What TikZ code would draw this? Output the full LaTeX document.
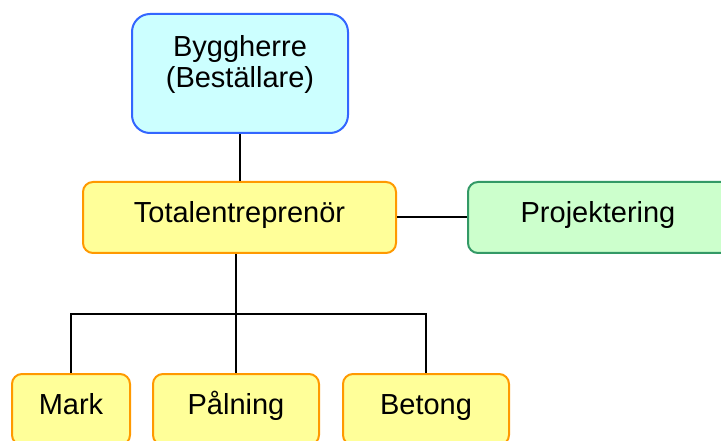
\documentclass[tikz,border=0pt]{standalone}
\usepackage{fontspec}
\setmainfont{Liberation Sans}
\definecolor{cyanfill}{HTML}{CCFFFF}
\definecolor{blueedge}{HTML}{3366FF}
\definecolor{yellowfill}{HTML}{FFFF99}
\definecolor{orangeedge}{HTML}{FF9900}
\definecolor{greenfill}{HTML}{CCFFCC}
\definecolor{greenedge}{HTML}{339966}
\tikzset{
  orgbox/.style={draw, line width=2pt, rounded corners=10pt, inner sep=0pt,
    minimum height=71pt, font=\fontsize{29}{31}\selectfont,
    text height=21pt, text depth=11.2pt},
  contractor/.style={orgbox, fill=yellowfill, draw=orangeedge},
  consultant/.style={orgbox, fill=greenfill, draw=greenedge},
  clientbox/.style={draw=blueedge, fill=cyanfill, line width=2pt,
    rounded corners=18pt, inner sep=0pt},
  link/.style={line width=2pt, black}
}
\begin{document}
\begin{tikzpicture}[x=1pt, y=-1pt]
  \useasboundingbox (0,0) rectangle (721,441);
  \clip (0,0) rectangle (721,441);
  \fill[white] (0,0) rectangle (721,441);

  % client
  \node[clientbox, minimum width=216pt, minimum height=119pt] (client) at (240,73.5) {};
  \node[align=center, font=\fontsize{29}{31}\selectfont, inner sep=0pt] (clienttext) at (240,64.5) {Byggherre\\(Beställare)};

  % main contractor and design (design box runs past the right edge)
  \node[contractor, minimum width=313pt] (main) at (239.5,217.5) {Totalentreprenör};
  \node[consultant, anchor=west] (design) at (467,217.5) {\makebox[260pt]{Projektering}\rule{30pt}{0pt}};

  % subcontractors (boxes run past the bottom edge)
  \node[contractor, minimum width=118pt] (mark) at (71,409.5) {Mark};
  \node[contractor, minimum width=166pt] (paln) at (236,409.5) {Pålning};
  \node[contractor, minimum width=166pt] (betong) at (426,409.5) {Betong};

  % connectors
  \coordinate (bar) at (238,314);
  \draw[link] (client.south -| main.north) -- (main.north);
  \draw[link] (main.east) -- (design.west);
  \draw[link] (main.south -| paln.north) -- (paln.north);
  \draw[link] (mark.north) |- (bar) -| (betong.north);
\end{tikzpicture}
\end{document}
